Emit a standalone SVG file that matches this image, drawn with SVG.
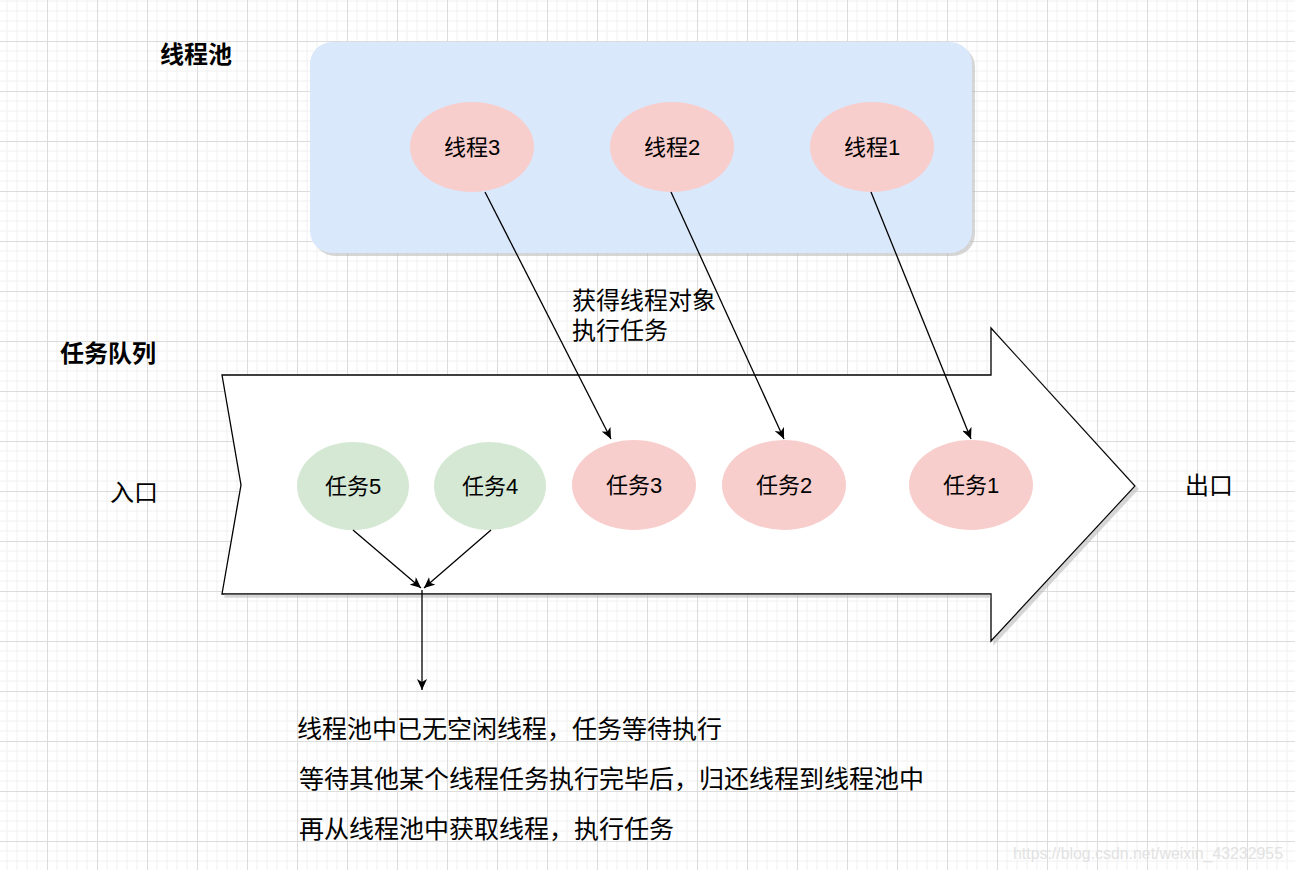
<svg xmlns="http://www.w3.org/2000/svg" width="1295" height="870" viewBox="0 0 1295 870">
<defs>
<pattern id="grid" width="50" height="50" x="-3" y="-9" patternUnits="userSpaceOnUse">
<path d="M10,0V50M20,0V50M30,0V50M40,0V50M0,10H50M0,20H50M0,30H50M0,40H50" stroke="#f0f0f0" stroke-width="1" fill="none"/>
<path d="M0.5,0V50M0,0.5H50" stroke="#dcdcdc" stroke-width="1" fill="none"/>
</pattern>
<marker id="arr" markerWidth="12" markerHeight="10" refX="11" refY="5" orient="auto" markerUnits="userSpaceOnUse">
<path d="M0,0 L11,5 L0,10 L3,5 z" fill="#000"/>
</marker>
<filter id="sh" x="-5%" y="-5%" width="110%" height="115%">
<feOffset dx="3" dy="3" in="SourceAlpha" result="o"/>
<feColorMatrix in="o" type="matrix" values="0 0 0 0 0.5  0 0 0 0 0.5  0 0 0 0 0.5  0 0 0 0.6 0" result="c"/>
<feMerge><feMergeNode in="c"/><feMergeNode in="SourceGraphic"/></feMerge>
</filter>
</defs>
<style>
text{font-family:"Liberation Sans","Noto Sans CJK SC",sans-serif;fill:#000;}
.lbl{font-size:22px;text-anchor:middle;dominant-baseline:central;}
.t24{font-size:24px;}
.t25{font-size:25px;}
.bold{font-weight:bold;}
.th{fill:#f8cecc;}
.tk{fill:#d5e8d4;}
.con{stroke:#000;stroke-width:1.3;fill:none;marker-end:url(#arr);}
</style>
<rect width="1295" height="870" fill="#fff"/>
<rect width="1295" height="870" fill="url(#grid)"/>

<g id="pool">
<rect x="310" y="42" width="662" height="211" rx="22" ry="22" fill="#dae8fc" filter="url(#sh)"/>
<text class="t24 bold" x="160" y="63">线程池</text>
</g>
<g id="thread3"><ellipse class="th" cx="472" cy="147" rx="62" ry="45"/><text class="lbl" x="472" y="147">线程3</text></g>
<g id="thread2"><ellipse class="th" cx="672" cy="147" rx="62" ry="45"/><text class="lbl" x="672" y="147">线程2</text></g>
<g id="thread1"><ellipse class="th" cx="872" cy="147" rx="62" ry="45"/><text class="lbl" x="872" y="147">线程1</text></g>

<g id="queue">
<path d="M222,375 L991,375 L991,328 L1135,486 L991,641 L991,594 L222,594 L241,485 Z" fill="#fff" stroke="#000" stroke-width="1.3" filter="url(#sh)"/>
<text class="t24 bold" x="60" y="362">任务队列</text>
</g>
<g id="entry"><text class="t24" x="110" y="501">入口</text></g>
<g id="exit"><text class="t24" x="1185" y="494">出口</text></g>

<g id="task5"><ellipse class="tk" cx="353" cy="486" rx="56" ry="44"/><text class="lbl" x="353" y="486">任务5</text></g>
<g id="task4"><ellipse class="tk" cx="490" cy="486" rx="56" ry="44"/><text class="lbl" x="490" y="486">任务4</text></g>
<g id="task3"><ellipse class="th" cx="634" cy="485" rx="62" ry="45"/><text class="lbl" x="634" y="485">任务3</text></g>
<g id="task2"><ellipse class="th" cx="784" cy="485" rx="62" ry="45"/><text class="lbl" x="784" y="485">任务2</text></g>
<g id="task1"><ellipse class="th" cx="971" cy="485" rx="62" ry="45"/><text class="lbl" x="971" y="485">任务1</text></g>

<g id="connectors">
<path class="con" d="M485,192 L611,439"/>
<path class="con" d="M671,192 L784,439"/>
<path class="con" d="M871,192 L971,439"/>
<path class="con" d="M353,530 L421,588"/>
<path class="con" d="M491,530 L424,588"/>
<path class="con" d="M422,590 L422,690"/>
</g>

<g id="label-acquire">
<text class="t24" x="572" y="309">获得线程对象</text>
<text class="t24" x="572" y="339">执行任务</text>
</g>
<g id="note">
<text class="t25" x="297" y="738">线程池中已无空闲线程，任务等待执行</text>
<text class="t25" x="299" y="788">等待其他某个线程任务执行完毕后，归还线程到线程池中</text>
<text class="t25" x="299" y="838">再从线程池中获取线程，执行任务</text>
</g>
<text x="1013" y="859" font-size="16" textLength="270" lengthAdjust="spacingAndGlyphs" style="fill:#e2e2e2">https://blog.csdn.net/weixin_43232955</text>
</svg>
